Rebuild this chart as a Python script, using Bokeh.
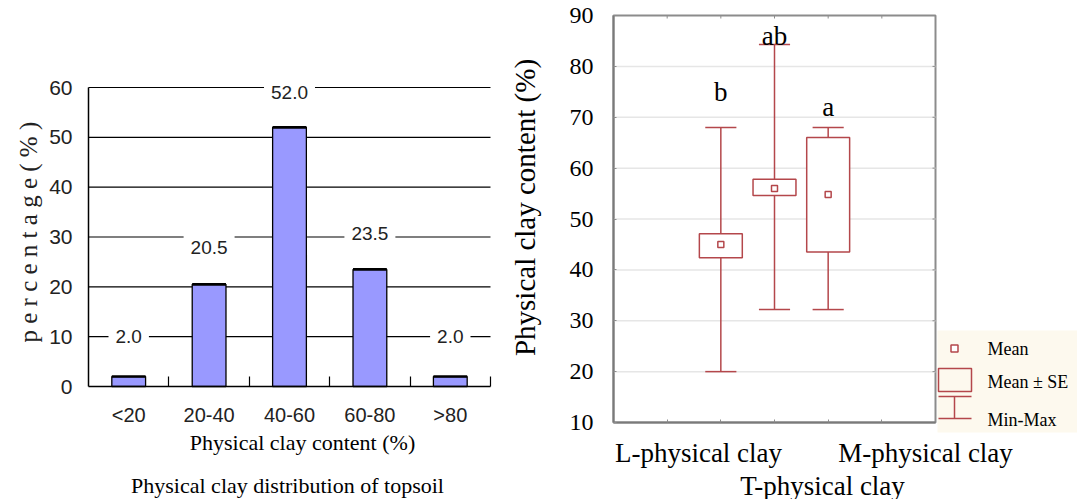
import numpy as np
from bokeh.plotting import figure
from bokeh.models import Range1d, FixedTicker, Label
from bokeh.layouts import row
from bokeh.embed import file_html
from bokeh.resources import INLINE

# ---------------- data ----------------
# left: distribution of physical clay in topsoil
bins = ["<20", "20-40", "40-60", "60-80", ">80"]
pct = [2.0, 20.5, 52.0, 23.5, 2.0]
pct_label_level = [10.0, 27.9, 59.0, 30.7, 10.0]
pct_ticks = [0, 10, 20, 30, 40, 50, 60]

# right: box plot (mean, mean +/- SE, min-max)
groups = ["L-physical clay", "T-physical clay", "M-physical clay"]
group_pos = [2, 3, 4]
mean = [45.0, 56.0, 54.8]
se_low = [42.4, 54.6, 43.5]
se_high = [47.1, 57.8, 66.0]
vmin = [20.0, 32.2, 32.2]
vmax = [68.0, 84.3, 68.0]
letters = ["b", "ab", "a"]
letter_level = [74.9, 85.9, 72.1]
clay_ticks = [10, 20, 30, 40, 50, 60, 70, 80, 90]

SANS = "Liberation Sans"
SERIF = "Liberation Serif"
RED = "#b4474b"
GRAY = "#8c8c8c"
H = 499

# ---------------- left figure ----------------
W1 = 505
L_X0, L_UX = 88, (490 - 88) / 5.0      # pixel of x=0, px per category
L_Y0, L_UY = 386, (386 - 87) / 60.0    # pixel of y=0, px per percent


def lx(px):
    return (px - L_X0) / L_UX


def ly(py):
    return (L_Y0 - py) / L_UY


p1 = figure(width=W1, height=H, output_backend="svg", toolbar_location=None,
            x_range=Range1d(lx(0), lx(W1)), y_range=Range1d(ly(H), ly(0)),
            min_border=0, min_border_left=0, min_border_right=0,
            min_border_top=0, min_border_bottom=0)
p1.outline_line_color = None
p1.background_fill_color = "white"
p1.border_fill_color = "white"
p1.xgrid.visible = False
p1.ygrid.visible = False

nb = len(bins)
centers = [i + 0.5 for i in range(nb)]

# horizontal grid lines
gl = pct_ticks[1:]
p1.segment(x0=[0] * len(gl), x1=[nb] * len(gl), y0=gl, y1=gl,
           line_color="black", line_width=1.2)

xa = p1.xaxis[0]
xa.fixed_location = 0
xa.bounds = (0, nb)
xa.ticker = FixedTicker(ticks=centers, minor_ticks=list(range(1, nb + 1)))
xa.major_label_overrides = {c: b for c, b in zip(centers, bins)}
xa.major_tick_in = 0
xa.major_tick_out = 0
xa.minor_tick_in = 10
xa.minor_tick_out = 0
xa.minor_tick_line_color = "black"
xa.minor_tick_line_width = 1.2
xa.axis_line_color = "black"
xa.axis_line_width = 1.5
xa.major_label_text_font = SANS
xa.major_label_text_font_size = "20px"
xa.major_label_text_color = "#222222"
xa.major_label_standoff = 17

ya = p1.yaxis[0]
ya.fixed_location = 0
ya.bounds = (pct_ticks[0], pct_ticks[-1])
ya.ticker = FixedTicker(ticks=pct_ticks)
ya.major_tick_in = 0
ya.major_tick_out = 0
ya.minor_tick_line_color = None
ya.axis_line_color = "black"
ya.axis_line_width = 1.5
ya.major_label_text_font = SANS
ya.major_label_text_font_size = "21px"
ya.major_label_text_color = "#222222"
ya.major_label_standoff = 16

bw = 0.42
p1.vbar(x=centers, top=pct, bottom=0, width=bw, fill_color="#9999ff",
        line_color="black", line_width=1.3)
p1.segment(x0=[c - bw / 2 for c in centers], x1=[c + bw / 2 for c in centers],
           y0=pct, y1=pct, line_color="black", line_width=2.6)

for c, v, lv in zip(centers, pct, pct_label_level):
    p1.add_layout(Label(x=c, y=lv, text=f"{v:.1f}", text_align="center",
                        text_baseline="middle", text_font=SANS,
                        text_font_size="19px", text_color="#222222",
                        background_fill_color="white", padding=7))

p1.add_layout(Label(x=lx(28), y=ly(342), text="p e r c e n t a g e ( % )",
                    angle=np.pi / 2, text_align="left", text_baseline="middle",
                    text_font=SERIF, text_font_size="25px", text_color="#222222"))
p1.add_layout(Label(x=lx(302), y=ly(442), text="Physical clay content (%)",
                    text_align="center", text_baseline="middle", text_font=SERIF,
                    text_font_size="22px", text_color="black"))
p1.add_layout(Label(x=lx(287), y=ly(485), text="Physical clay distribution of topsoil",
                    text_align="center", text_baseline="middle", text_font=SERIF,
                    text_font_size="22px", text_color="black"))

# ---------------- right figure ----------------
W2 = 1077 - W1
R_X0, R_UX = 613, (935 - 613) / 6.0     # pixel of x=0, px per x unit
R_Y10, R_UY = 422, (422 - 15) / 80.0    # pixel of y=10, px per y unit


def rx(px):
    return (px - R_X0) / R_UX


def ry(py):
    return 10 + (R_Y10 - py) / R_UY


p2 = figure(width=W2, height=H, output_backend="svg", toolbar_location=None,
            x_range=Range1d(rx(W1), rx(1077)), y_range=Range1d(ry(H), ry(0)),
            min_border=0, min_border_left=0, min_border_right=0,
            min_border_top=0, min_border_bottom=0)
p2.outline_line_color = None
p2.xgrid.visible = False
p2.ygrid.visible = False
p2.background_fill_color = "white"
p2.border_fill_color = "white"

xf0, xf1 = 0, 6

# legend background
p2.quad(left=rx(937), right=rx(1077), bottom=ry(432), top=ry(330),
        fill_color="#fdf9ee", line_color=None)

# plot frame + grid
p2.quad(left=xf0, right=xf1, bottom=clay_ticks[0], top=clay_ticks[-1],
        fill_color="white", line_color=GRAY, line_width=2)
inner = clay_ticks[1:-1]
p2.segment(x0=[xf0] * len(inner), x1=[xf1] * len(inner), y0=inner, y1=inner,
           line_color="#e6e6e6", line_width=1.5)
tx = [1, 2, 3, 4, 5]
tl = 3 / R_UY
p2.segment(x0=tx, x1=tx, y0=[clay_ticks[-1]] * 5, y1=[clay_ticks[-1] - tl] * 5,
           line_color=GRAY, line_width=1)
tlx = 3 / R_UX
p2.segment(x0=[xf1] * len(inner), x1=[xf1 - tlx] * len(inner), y0=inner, y1=inner,
           line_color=GRAY, line_width=1)

xa2 = p2.xaxis[0]
xa2.fixed_location = clay_ticks[0]
xa2.bounds = (xf0, xf1)
xa2.ticker = FixedTicker(ticks=tx)
xa2.axis_line_color = "#7a7a7a"
xa2.axis_line_width = 2
xa2.major_tick_in = 3
xa2.major_tick_out = 0
xa2.major_tick_line_color = GRAY
xa2.minor_tick_line_color = None
xa2.major_label_text_color = None

ya2 = p2.yaxis[0]
ya2.fixed_location = xf0
ya2.ticker = FixedTicker(ticks=clay_ticks)
ya2.bounds = (clay_ticks[0], clay_ticks[-1])
ya2.axis_line_color = "#7a7a7a"
ya2.axis_line_width = 2
ya2.major_tick_in = 3
ya2.major_tick_out = 0
ya2.major_tick_line_color = GRAY
ya2.minor_tick_line_color = None
ya2.major_label_text_font = SERIF
ya2.major_label_text_font_size = "24px"
ya2.major_label_text_color = "black"
ya2.major_label_standoff = 20

# boxes
cap = 0.29
boxw = 0.4
p2.segment(x0=group_pos, x1=group_pos, y0=vmin, y1=vmax, line_color=RED, line_width=1.5)
p2.segment(x0=[g - cap for g in group_pos], x1=[g + cap for g in group_pos],
           y0=vmin, y1=vmin, line_color=RED, line_width=1.5)
p2.segment(x0=[g - cap for g in group_pos], x1=[g + cap for g in group_pos],
           y0=vmax, y1=vmax, line_color=RED, line_width=1.5)
p2.quad(left=[g - boxw for g in group_pos], right=[g + boxw for g in group_pos],
        bottom=se_low, top=se_high, fill_color="white", line_color=RED, line_width=1.5)
p2.scatter(x=group_pos, y=mean, marker="square", size=6, fill_color="white",
           line_color=RED, line_width=1.5)

for g, t, lv in zip(group_pos, letters, letter_level):
    p2.add_layout(Label(x=g, y=lv, text=t, text_align="center", text_baseline="middle",
                        text_font=SERIF, text_font_size="27px", text_color="black"))

# category labels (staggered, as in the original)
cat_px = [(698, 452), (822, 485), (925, 452)]
for name, (cx, cy) in zip(groups, cat_px):
    p2.add_layout(Label(x=rx(cx), y=ry(cy), text=name, text_align="center",
                        text_baseline="middle", text_font=SERIF,
                        text_font_size="27px", text_color="black"))

# y-axis title
p2.add_layout(Label(x=rx(524), y=ry(207), text="Physical clay content (%)",
                    angle=np.pi / 2, text_align="center", text_baseline="middle",
                    text_font=SERIF, text_font_size="29px", text_color="black"))

# legend
p2.scatter(x=[rx(954)], y=[ry(348)], marker="square", size=7, fill_color="white",
           line_color=RED, line_width=1.5)
p2.quad(left=[rx(938)], right=[rx(971)], bottom=[ry(391)], top=[ry(368)],
        fill_color=None, line_color=RED, line_width=1.5)
p2.segment(x0=[rx(938), rx(954), rx(938)], x1=[rx(971), rx(954), rx(971)],
           y0=[ry(396), ry(396), ry(418)], y1=[ry(396), ry(418), ry(418)],
           line_color=RED, line_width=1.5)
for txt, lyy in zip(["Mean", "Mean \u00b1 SE", "Min-Max"], [348, 381, 419]):
    p2.add_layout(Label(x=rx(987), y=ry(lyy), text=txt, text_align="left",
                        text_baseline="middle", text_font=SERIF,
                        text_font_size="18px", text_color="black"))

layout = row(p1, p2)
open("out.html", "w").write(file_html(layout, INLINE))
